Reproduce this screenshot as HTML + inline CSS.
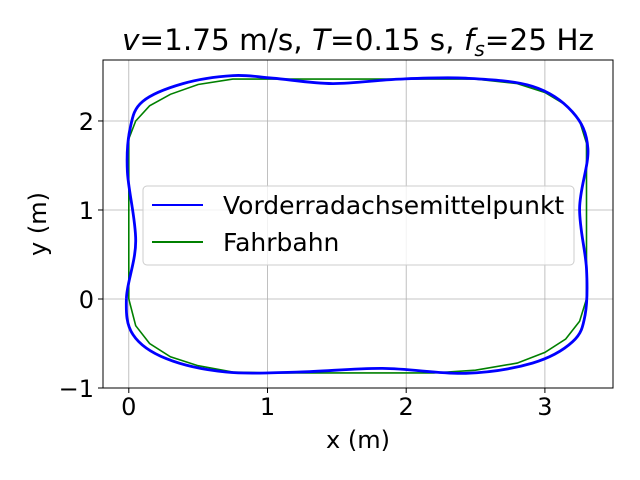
<!DOCTYPE html>
<html><head><meta charset="utf-8"><style>
body{margin:0;background:#fff;}
svg{display:block;font-family:"DejaVu Sans","Liberation Sans",sans-serif;}
</style></head><body>
<svg id="chart" width="640" height="480" viewBox="0 0 640 480">
<rect width="640" height="480" fill="#fff"/>
<g id="grid"></g>
<g id="ticks"></g>
<g id="series"></g>
<rect x="103" y="60" width="510" height="328" fill="none" stroke="#000" stroke-width="1"/>
<text x="358" y="50" font-size="29.5" text-anchor="middle"><tspan font-style="italic">v</tspan>=1.75 m/s, <tspan font-style="italic">T</tspan>=0.15 s, <tspan font-style="italic">f</tspan><tspan font-style="italic" font-size="20" dy="6">s</tspan><tspan dy="-6">=25 Hz</tspan></text>
<text x="358" y="448" font-size="24" text-anchor="middle">x (m)</text>
<text x="46" y="224" font-size="24" text-anchor="middle" transform="rotate(-90 46 224)">y (m)</text>
<g>
<rect x="143" y="186" width="431" height="79" rx="4" fill="#fff" fill-opacity="0.8" stroke="#ccc"/>
<line x1="152" y1="205" x2="203" y2="205" stroke="#0000ff" stroke-width="2"/>
<text x="223" y="214" font-size="25">Vorderradachsemittelpunkt</text>
<line x1="152" y1="242" x2="203" y2="242" stroke="#008000" stroke-width="2"/>
<text x="223" y="251" font-size="25">Fahrbahn</text>
</g>
</svg>
<script>
const xTicks=[0,1,2,3];
const yTicks=[-1,0,1,2];
const yTickLabels=["\u22121","0","1","2"];
const roadX=[0,0,0.05,0.15,0.3,0.5,0.75,1.5,2.5,2.8,3.0,3.15,3.25,3.3,3.3,3.25,3.15,3.0,2.8,2.5,2.2,1.0,0.75,0.5,0.3,0.15,0.05,0];
const roadY=[0,1.8,2.0,2.17,2.3,2.41,2.47,2.47,2.47,2.42,2.32,2.18,2.0,1.75,0,-0.25,-0.45,-0.6,-0.72,-0.8,-0.83,-0.83,-0.82,-0.75,-0.65,-0.5,-0.3,0];
const carX=[-0.017,0.05,-0.01,0.01,0.10,0.39,0.75,1.04,1.47,1.95,2.43,2.91,3.2,3.31,3.25,3.30,3.29,3.2,2.91,2.43,1.83,1.23,0.70,0.27,0.03];
const carY=[0.01,0.65,1.43,1.92,2.22,2.42,2.51,2.48,2.42,2.47,2.48,2.39,2.10,1.69,1.02,0.34,-0.18,-0.48,-0.72,-0.835,-0.78,-0.82,-0.82,-0.67,-0.40];
const NS='http://www.w3.org/2000/svg';
const X0=103,X1=613,Y0=60,Y1=388;
const xmin=-0.186,xmax=3.491,ymin=-1.0,ymax=2.685;
const sx=v=>X0+(v-xmin)/(xmax-xmin)*(X1-X0);
const sy=v=>Y1-(v-ymin)/(ymax-ymin)*(Y1-Y0);
function mk(tag,attrs,parent){const e=document.createElementNS(NS,tag);for(const k in attrs)e.setAttribute(k,attrs[k]);parent.appendChild(e);return e;}
const grid=document.getElementById('grid'),ticks=document.getElementById('ticks'),series=document.getElementById('series');
xTicks.forEach(t=>{const x=sx(t);
 const g=mk('line',{x1:x,x2:x,y1:Y0,y2:Y1,stroke:'#b0b0b0','stroke-width':0.8},grid);
 
 
 const tk=mk('line',{x1:x,x2:x,y1:Y1,y2:Y1+5,stroke:'#000'},ticks);
 
 
 const tx=mk('text',{x:x,y:Y1+27,'font-size':24,'text-anchor':'middle'},ticks);tx.textContent=String(t);
 
 
});
yTicks.forEach((t,i)=>{const y=sy(t);
 const g=mk('line',{x1:X0,x2:X1,y1:y,y2:y,stroke:'#b0b0b0','stroke-width':0.8},grid);
 
 
 const tk=mk('line',{x1:X0-5,x2:X0,y1:y,y2:y,stroke:'#000'},ticks);
 
 
 const tx=mk('text',{x:X0-9,y:y+9,'font-size':24,'text-anchor':'end'},ticks);tx.textContent=yTickLabels[i];
 
 
});
const rp=roadX.map((v,i)=>sx(v).toFixed(1)+','+sy(roadY[i]).toFixed(1)).join(' ');
const road=mk('polyline',{points:rp,fill:'none',stroke:'#008000','stroke-width':1.6},series);


const P=carX.map((v,i)=>[sx(v),sy(carY[i])]);const n=P.length;
let d='M'+P[0][0]+','+P[0][1];
for(let i=0;i<n;i++){const p0=P[(i-1+n)%n],p1=P[i],p2=P[(i+1)%n],p3=P[(i+2)%n];
 const c1=[p1[0]+(p2[0]-p0[0])/6,p1[1]+(p2[1]-p0[1])/6],c2=[p2[0]-(p3[0]-p1[0])/6,p2[1]-(p3[1]-p1[1])/6];
 d+=` C${c1[0].toFixed(1)},${c1[1].toFixed(1)} ${c2[0].toFixed(1)},${c2[1].toFixed(1)} ${p2[0].toFixed(1)},${p2[1].toFixed(1)}`;}
const car=mk('path',{d:d,fill:'none',stroke:'#0000ff','stroke-width':2.8},series);


</script>
</body></html>
